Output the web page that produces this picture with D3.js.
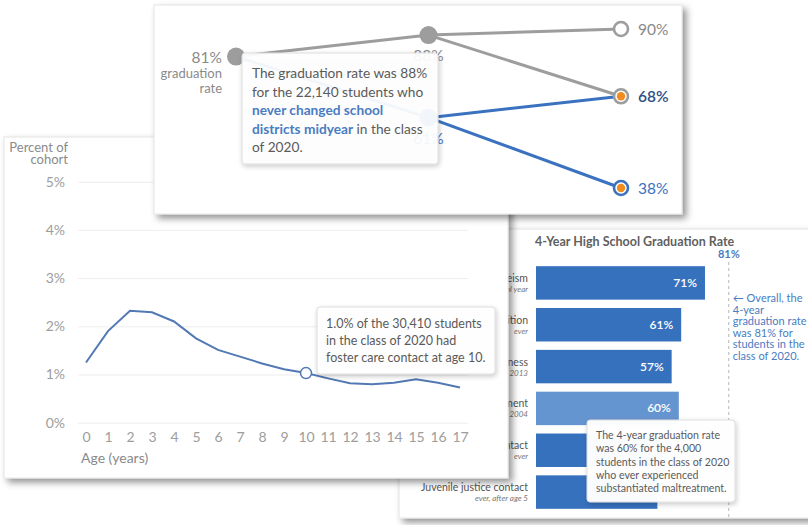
<!DOCTYPE html>
<html>
<head>
<meta charset="utf-8">
<script src="https://cdn.jsdelivr.net/npm/d3@7"></script>
<style>
  body { margin: 0; background: #fff; overflow: hidden; }
  svg { display: block; font-family: Lato, "Open Sans", sans-serif; }
</style>
</head>
<body>
<svg id="chart" width="808" height="525"></svg>
<script>
// ---- datos ----
// slope chart (tasa de graduacion por trayectoria)
const slopeValues = [81, 88, 61, 90, 68, 38];
const slopeStages = [0, 1, 1, 2, 2, 2];
const slopeLinks = [[0, 1], [0, 2], [1, 3], [1, 4], [2, 4], [2, 5]];
const slopeLinkGroup = ["never", "changed", "never", "never", "changed", "changed"];

// line chart (foster care contact por edad)
const ages = [0, 1, 2, 3, 4, 5, 6, 7, 8, 9, 10, 11, 12, 13, 14, 15, 16, 17];
const fosterPct = [1.25, 1.90, 2.32, 2.29, 2.10, 1.75, 1.51, 1.37, 1.23, 1.11, 1.03, 0.92, 0.82, 0.80, 0.83, 0.90, 0.83, 0.73];
const pctTicks = [0, 1, 2, 3, 4, 5];

// bar chart
const barCategories = ["Chronic absenteeism", "Midyear school transition", "Homelessness",
  "Substantiated maltreatment", "Foster care contact", "Juvenile justice contact"];
const barSublabels = ["in any school year", "ever", "since 2013", "since 2004", "ever", "ever, after age 5"];
const gradRates = [71, 61, 57, 60, 53, 51];
const overallRate = 81;

const svg = d3.select("#chart");
const defs = svg.append("defs");

defs.append("filter").attr("id", "cardShadow")
    .attr("x", "-10%").attr("y", "-10%").attr("width", "125%").attr("height", "125%")
  .append("feDropShadow")
    .attr("dx", 4).attr("dy", 4).attr("stdDeviation", 3.5)
    .attr("flood-color", "#000").attr("flood-opacity", 0.42);

defs.append("filter").attr("id", "tipShadow")
    .attr("x", "-10%").attr("y", "-10%").attr("width", "125%").attr("height", "130%")
  .append("feDropShadow")
    .attr("dx", 1).attr("dy", 2).attr("stdDeviation", 2.5)
    .attr("flood-color", "#000").attr("flood-opacity", 0.22);

function card(x, y, w, h) {
    const g = svg.append("g");
    g.append("rect")
        .attr("x", x).attr("y", y).attr("width", w).attr("height", h)
        .attr("fill", "#fff").attr("stroke", "#e4e4e4")
        .attr("filter", "url(#cardShadow)");
    return g;
}

// caja de tooltip con lineas de texto (cada linea = lista de trozos)
function tooltip(g, box, textX, firstY, lh, size, opacity, lines) {
    g.append("rect")
        .attr("x", box[0]).attr("y", box[1]).attr("width", box[2]).attr("height", box[3])
        .attr("rx", 3)
        .attr("fill", "#fff").attr("fill-opacity", opacity)
        .attr("stroke", "#dcdcdc")
        .attr("filter", "url(#tipShadow)");
    const t = g.append("text")
        .attr("font-size", size).attr("fill", "#5a5a5a");
    lines.forEach((parts, i) => {
        parts.forEach((p, j) => {
            const s = t.append("tspan").text(p.text);
            if (j === 0) s.attr("x", textX).attr("y", firstY + i * lh);
            if (p.bold) s.attr("font-weight", 700).attr("fill", "#4a7cc2");
        });
    });
}

// ================= Tarjeta de barras (fondo) =================
const barCard = card(399, 229, 430, 289);

const xBar = d3.scaleLinear().domain([0, 100]).range([536, 774]);
const yBar = d3.scaleBand().domain(barCategories).range([262, 513]).paddingInner(0.2).paddingOuter(0.1);

barCard.append("text")
    .attr("x", 535).attr("y", 246)
    .attr("font-size", 12.5).attr("font-weight", 700).attr("fill", "#5f5f5f")
    .text("4-Year High School Graduation Rate");

barCard.append("line")
    .attr("x1", xBar(overallRate)).attr("x2", xBar(overallRate))
    .attr("y1", 262).attr("y2", 518)
    .attr("stroke", "#b5b5b5").attr("stroke-dasharray", "3,3");

barCard.append("text")
    .attr("x", xBar(overallRate)).attr("y", 258)
    .attr("text-anchor", "middle")
    .attr("font-size", 11).attr("font-weight", 700).attr("fill", "#4a7cc2")
    .text(overallRate + "%");

const noteLines = ["\u2190 Overall, the", "4-year", "graduation rate", "was 81% for", "students in the", "class of 2020."];
barCard.append("text")
    .attr("font-size", 11).attr("fill", "#4a7cc2")
    .selectAll("tspan")
    .data(noteLines)
    .join("tspan")
    .attr("x", xBar(overallRate) + 4)
    .attr("y", (d, i) => 302 + i * 11.6)
    .text(d => d);

const bars = barCard.selectAll("g.bar")
    .data(barCategories)
    .join("g")
    .attr("class", "bar");

bars.append("rect")
    .attr("x", xBar(0))
    .attr("y", d => yBar(d))
    .attr("width", (d, i) => xBar(gradRates[i]) - xBar(0))
    .attr("height", yBar.bandwidth())
    .attr("fill", (d, i) => i === 3 ? "#6595d0" : "#3671be");

bars.append("text")
    .attr("x", (d, i) => xBar(gradRates[i]) - 8)
    .attr("y", d => yBar(d) + yBar.bandwidth() / 2 + 4)
    .attr("text-anchor", "end")
    .attr("font-size", 12).attr("font-weight", 600).attr("fill", "#fff")
    .text((d, i) => gradRates[i] + "%");

bars.append("text")
    .attr("x", 528)
    .attr("y", d => yBar(d) + yBar.bandwidth() / 2 - 1)
    .attr("text-anchor", "end")
    .attr("font-size", 10.5).attr("fill", "#555")
    .text(d => d);

bars.append("text")
    .attr("x", 528)
    .attr("y", d => yBar(d) + yBar.bandwidth() / 2 + 9)
    .attr("text-anchor", "end")
    .attr("font-size", 8).attr("font-style", "italic").attr("fill", "#777")
    .text((d, i) => barSublabels[i]);

tooltip(barCard, [587, 420, 148, 82], 596, 439, 13.3, 10.6, 0.97, [
    [{ text: "The 4-year graduation rate" }],
    [{ text: "was 60% for the 4,000" }],
    [{ text: "students in the class of 2020" }],
    [{ text: "who ever experienced" }],
    [{ text: "substantiated maltreatment." }]
]);

// ================= Tarjeta de linea =================
const lineCard = card(4, 137, 504, 341);

const xLine = d3.scaleLinear().domain([0, 17]).range([86, 460]);
const yLine = d3.scaleLinear().domain([0, 5]).range([422.7, 181.7]);

const yAxis = lineCard.append("g")
    .attr("transform", "translate(78,0)")
    .call(d3.axisLeft(yLine).tickValues(pctTicks).tickFormat(d => d + "%").tickSize(-390).tickPadding(13));
yAxis.select(".domain").remove();
yAxis.selectAll(".tick line").attr("stroke", "#ededed");
yAxis.selectAll(".tick text").attr("font-size", 14).attr("font-family", "Lato").attr("fill", "#9d9d9d");

const xAxis = lineCard.append("g")
    .attr("transform", "translate(0,422.7)")
    .call(d3.axisBottom(xLine).tickValues(ages).tickSize(0).tickPadding(9));
xAxis.select(".domain").remove();
xAxis.selectAll(".tick text").attr("font-size", 14).attr("font-family", "Lato").attr("fill", "#9d9d9d");

lineCard.append("text")
    .attr("text-anchor", "end").attr("font-size", 13).attr("fill", "#8a8a8a")
    .selectAll("tspan")
    .data(["Percent of", "cohort"])
    .join("tspan")
    .attr("x", 68)
    .attr("y", (d, i) => 152 + i * 12)
    .text(d => d);

lineCard.append("text")
    .attr("x", 81).attr("y", 463)
    .attr("font-size", 14).attr("fill", "#8a8a8a")
    .text("Age (years)");

lineCard.append("path")
    .datum(ages)
    .attr("fill", "none")
    .attr("stroke", "#5279b4")
    .attr("stroke-width", 2)
    .attr("d", d3.line().x(d => xLine(d)).y((d, i) => yLine(fosterPct[i])));

lineCard.append("circle")
    .attr("cx", xLine(ages[10])).attr("cy", yLine(fosterPct[10]))
    .attr("r", 5.5)
    .attr("fill", "#fff").attr("stroke", "#5279b4").attr("stroke-width", 1.5);

tooltip(lineCard, [317, 307, 178, 67], 326, 328, 16.8, 12.5, 0.97, [
    [{ text: "1.0% of the 30,410 students" }],
    [{ text: "in the class of 2020 had" }],
    [{ text: "foster care contact at age 10." }]
]);

// ================= Tarjeta superior (slope) =================
const topCard = card(154, 5, 528, 209);

const xSlope = d3.scalePoint().domain([0, 1, 2]).range([236, 621]);
const ySlope = d3.scaleLinear().domain([38, 90]).range([188, 29]);
const linkColor = { never: "#9d9d9d", changed: "#3a72bf" };

topCard.selectAll("line.link")
    .data(slopeLinks)
    .join("line")
    .attr("class", "link")
    .attr("x1", d => xSlope(slopeStages[d[0]]))
    .attr("y1", d => ySlope(slopeValues[d[0]]))
    .attr("x2", d => xSlope(slopeStages[d[1]]))
    .attr("y2", d => ySlope(slopeValues[d[1]]))
    .attr("stroke", (d, i) => linkColor[slopeLinkGroup[i]])
    .attr("stroke-width", 3);

// nodos iniciales / intermedios
[0, 1, 2].forEach(i => {
    topCard.append("circle")
        .attr("cx", xSlope(slopeStages[i])).attr("cy", ySlope(slopeValues[i]))
        .attr("r", 9)
        .attr("fill", i === 2 ? "#3a72bf" : "#9d9d9d");
});

// nodos finales
const endRing = ["#9d9d9d", "#9d9d9d", "#3a72bf"];
[3, 4, 5].forEach((n, k) => {
    topCard.append("circle")
        .attr("cx", xSlope(2)).attr("cy", ySlope(slopeValues[n]))
        .attr("r", 7)
        .attr("fill", "#fff").attr("stroke", endRing[k]).attr("stroke-width", 2.6);
    if (k > 0) {
        topCard.append("circle")
            .attr("cx", xSlope(2)).attr("cy", ySlope(slopeValues[n]))
            .attr("r", 4.2)
            .attr("fill", "#f28c1e");
    }
    topCard.append("text")
        .attr("x", xSlope(2) + 17).attr("y", ySlope(slopeValues[n]) + 6)
        .attr("font-size", 15.5)
        .attr("font-weight", k === 1 ? 600 : 400)
        .attr("fill", ["#8a8a8a", "#2f4f86", "#3a72bf"][k])
        .text(slopeValues[n] + "%");
});

topCard.append("text")
    .attr("x", 222).attr("y", ySlope(slopeValues[0]) + 6)
    .attr("text-anchor", "end").attr("font-size", 15.5).attr("fill", "#8a8a8a")
    .text(slopeValues[0] + "%");
topCard.append("text")
    .attr("text-anchor", "end").attr("font-size", 13).attr("fill", "#8a8a8a")
    .selectAll("tspan")
    .data(["graduation", "rate"])
    .join("tspan")
    .attr("x", 222)
    .attr("y", (d, i) => 78 + i * 14.5)
    .text(d => d);

[1, 2].forEach(i => {
    topCard.append("text")
        .attr("x", xSlope(1)).attr("y", ySlope(slopeValues[i]) + 26)
        .attr("text-anchor", "middle").attr("font-size", 15.5)
        .attr("fill", i === 1 ? "#8a8a8a" : "#3a72bf")
        .text(slopeValues[i] + "%");
});

tooltip(topCard, [242, 53, 196, 111], 252, 78, 18.5, 13.7, 0.93, [
    [{ text: "The graduation rate was 88%" }],
    [{ text: "for the 22,140 students who" }],
    [{ text: "never changed school", bold: true }],
    [{ text: "districts midyear", bold: true }, { text: " in the class" }],
    [{ text: "of 2020." }]
]);
</script>
</body>
</html>
